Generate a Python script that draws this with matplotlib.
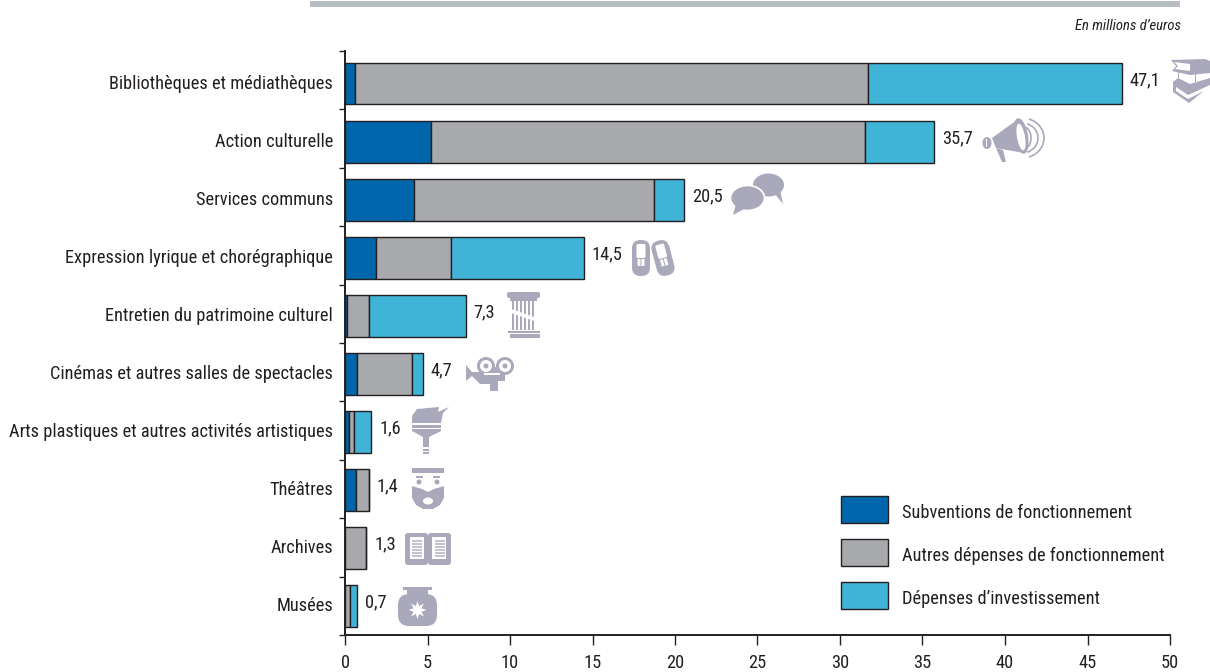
import matplotlib
matplotlib.use('Agg')
import matplotlib.pyplot as plt
from matplotlib.patches import Polygon, Circle, Ellipse, FancyBboxPatch, Rectangle, Arc
from matplotlib.transforms import Affine2D
import numpy as np

plt.rcParams['font.family'] = ['Roboto Condensed', 'Roboto', 'DejaVu Sans']

categories = ['Bibliothèques et médiathèques', 'Action culturelle', 'Services communs',
              'Expression lyrique et chorégraphique', 'Entretien du patrimoine culturel',
              'Cinémas et autres salles de spectacles', 'Arts plastiques et autres activités artistiques',
              'Théâtres', 'Archives', 'Musées']
subventions = [0.6, 5.2, 4.2, 1.85, 0.15, 0.7, 0.27, 0.65, 0.0, 0.0]
autres = [31.1, 26.3, 14.5, 4.6, 1.3, 3.35, 0.25, 0.78, 1.3, 0.3]
investissement = [15.4, 4.2, 1.85, 8.05, 5.88, 0.65, 1.08, 0.0, 0.0, 0.43]
totals = ['47,1', '35,7', '20,5', '14,5', '7,3', '4,7', '1,6', '1,4', '1,3', '0,7']
series_names = ['Subventions de fonctionnement', 'Autres dépenses de fonctionnement', 'Dépenses d\u2019investissement']
series_colors = ['#0066ab', '#a7a9ac', '#40b4d6']
x_ticks = [0, 5, 10, 15, 20, 25, 30, 35, 40, 45, 50]

W, H = 1210, 672
ICON = '#a9a9bb'
DARK = '#231f20'
FS = 13.2

fig = plt.figure(figsize=(W / 100, H / 100), dpi=100)
ax = fig.add_axes([345 / W, 1 - 635 / H, 825 / W, 584 / H])

y = np.arange(len(categories))
left = np.zeros(len(categories))
for vals, name, col in zip([subventions, autres, investissement], series_names, series_colors):
    vals = np.array(vals)
    ax.barh(y, vals, left=left, height=42 / 58.05, color=col, edgecolor=DARK, linewidth=1.0, label=name)
    left = left + vals

for i, txt in enumerate(totals):
    ax.annotate(txt, (left[i], y[i]), xytext=(5.5, 2.5), textcoords='offset points', va='center', ha='left',
                fontsize=FS, color=DARK)

ax.set_xlim(0, 50)
ax.set_ylim(9.505, -0.56)
ax.set_xticks(x_ticks)
ax.set_xticklabels([str(v) for v in x_ticks], fontsize=FS, color=DARK)
ax.tick_params(axis='x', length=7, width=1.0, color=DARK, pad=6.5)
ax.set_yticks(np.linspace(-0.56, 9.505, 11))
ax.set_yticklabels([])
ax.tick_params(axis='y', which='major', length=4, width=1.0, color=DARK)
ax.set_yticks(y - 0.03, minor=True)
ax.set_yticklabels(categories, minor=True, fontsize=FS, color=DARK)
ax.tick_params(axis='y', which='minor', length=0, pad=8.5)
for s in ['top', 'right']:
    ax.spines[s].set_visible(False)
for s in ['left', 'bottom']:
    ax.spines[s].set_linewidth(1.4)
    ax.spines[s].set_color(DARK)

leg = ax.legend(loc='upper left', bbox_to_anchor=(841 / W, 1 - 496 / H), bbox_transform=fig.transFigure,
                frameon=False, fontsize=FS, handlelength=47 * 0.72 / FS, handleheight=1.889,
                labelspacing=16 * 0.72 / FS, handletextpad=14 * 0.72 / FS, borderpad=0, borderaxespad=0,
                labelcolor=DARK)
for t in leg.get_texts():
    t.set_y(-3)

# overlay in pixel coordinates, for the rule, the unit note and the icons
ov = fig.add_axes([0, 0, 1, 1], zorder=5)
ov.set_xlim(0, W)
ov.set_ylim(H, 0)
ov.axis('off')
ov.add_patch(Rectangle((310, 1), 870, 6, color='#b6bec1', lw=0))
ov.text(1181, 26, 'En millions d\u2019euros', ha='right', va='center', fontsize=10.5, style='italic', color=DARK)


def poly(pts, c=ICON):
    ov.add_patch(Polygon(pts, closed=True, fc=c, ec='none'))


def rect(x, y, w, h, c=ICON):
    ov.add_patch(Rectangle((x, y), w, h, fc=c, ec='none'))


def rrect(x, y, w, h, r, c=ICON, rot=0, about=(0, 0)):
    p = FancyBboxPatch((x + r, y + r), w - 2 * r, h - 2 * r, boxstyle='round,pad=%g' % r, fc=c, ec='none')
    p.set_transform(Affine2D().rotate_deg_around(about[0], about[1], rot) + ov.transData)
    ov.add_patch(p)


def circ(x, y, r, c=ICON):
    ov.add_patch(Circle((x, y), r, fc=c, ec='none'))


def ell(x, y, w, h, c=ICON, a=0):
    ov.add_patch(Ellipse((x, y), w, h, angle=a, fc=c, ec='none'))


# books
poly([(1171, 60), (1205, 59), (1210, 61), (1210, 73), (1190, 75), (1172, 71), (1176, 66)])
poly([(1174, 62), (1190, 64), (1190, 71), (1175, 69), (1178, 66)], 'white')
rect(1178, 72, 1.2, 7)
rect(1195, 74, 1.2, 8)
poly([(1173, 82), (1178, 78), (1190, 84), (1210, 78), (1210, 86), (1189, 103), (1173, 92)])
poly([(1176, 87), (1188, 95), (1210, 85), (1210, 88), (1188, 99), (1176, 91)], 'white')

# megaphone
poly([(992, 138), (1017, 120), (1024, 153), (996, 148)])
ell(987, 143, 9, 12)
rect(986, 139, 1, 8, 'white')
poly([(996, 148), (1003, 150), (1006, 162), (1002, 162)])
ell(1021, 136, 14, 36, ICON, -10)
ell(1021, 137, 8, 27, 'white', -10)
for cx, w, h, lw in [(1022, 18, 24, 1.2), (1022, 32, 30, 1.2), (1022, 44, 40, 1.2)]:
    ov.add_patch(Arc((cx, 138), w, h, theta1=-70, theta2=70, ec=ICON, lw=lw))

# speech bubbles
ell(768.5, 185, 31, 23)
poly([(774, 193), (783, 204), (780, 190)])
ov.add_patch(Ellipse((747.5, 198), 34, 25, fc=ICON, ec='white', lw=1.2, zorder=3))
ov.add_patch(Polygon([(736, 204), (733, 215), (746, 208)], closed=True, fc=ICON, ec='none', zorder=3))

# ballet shoes
for x0, rot in [(632, 0), (654, -15)]:
    about = (x0 + 9, 258)
    rrect(x0, 240, 18, 36, 8.5, ICON, rot, about)
    rrect(x0 + 4.5, 244, 9, 14, 1.5, 'white', rot, about)
    rrect(x0 + 5.5, 259, 7, 7, 1, 'white', rot, about)
    rrect(x0 + 8.5, 259, 1, 7, 0.2, ICON, rot, about)

# column
rrect(507, 292, 33, 6, 2)
rect(510, 298, 27, 3)
for xx in np.arange(512, 536, 4):
    rect(xx, 301, 2.2, 29)
rect(508, 331, 32, 2)
rect(510, 334, 30, 3.5)
poly([(511, 309), (537, 318), (537, 322), (511, 313)], 'white')

# film camera
poly([(466, 365), (472, 372), (481, 372), (481, 367), (505, 367), (505, 381), (498, 381), (498, 391), (490, 391),
      (490, 384), (480, 384), (472, 376), (466, 381)])
for cx, r in [(486, 9), (505, 9)]:
    circ(cx, 366, r)
    circ(cx, 366, r - 3, 'white')
    circ(cx, 366, 2.5)
rect(484, 373, 16, 1.5, 'white')

# brush
poly([(412, 423), (412, 416), (417, 409), (428, 408), (439, 407), (438, 412), (449, 407), (443, 413), (441, 423)])
rect(412, 425, 29, 3)
poly([(412, 429), (441, 429), (441, 431), (429, 437), (429, 447), (423, 447), (423, 437), (412, 431)])
rect(423, 449, 6, 1.5)
rect(423, 452, 6, 1.5)

# face
rect(412, 468, 32, 5)
rect(416, 476, 7, 2)
rect(433, 476, 7, 2)
circ(419, 482, 2.5)
circ(437, 482, 2.5)
poly([(412, 486), (422, 489), (428, 492), (434, 489), (444, 486), (444, 498), (440, 505), (433, 509), (423, 509),
      (416, 505), (412, 498)])
ell(428, 501, 10, 7, 'white')

# open book
rrect(405, 533, 23, 32, 3)
rrect(428, 533, 23, 32, 3)
rect(410, 537, 14, 22, 'white')
rect(432, 537, 14, 22, 'white')
for yy in np.arange(540, 558, 3):
    rect(412, yy, 10, 1.5, '#c4c4d0')
    rect(435, yy, 10, 1.5, '#c4c4d0')

# pot
rect(403, 587, 29, 3)
rect(407, 590, 21, 4)
rrect(398, 594, 39, 32, 11)
for k in range(8):
    a = k * np.pi / 4
    xx, yy = 417.5 + 9 * np.cos(a), 610 + 9 * np.sin(a)
    poly([(417.5 + 3 * np.cos(a + 0.9), 610 + 3 * np.sin(a + 0.9)), (xx, yy),
          (417.5 + 3 * np.cos(a - 0.9), 610 + 3 * np.sin(a - 0.9))], 'white')
circ(417.5, 610, 4, 'white')

fig.savefig('out.png', dpi=100)
